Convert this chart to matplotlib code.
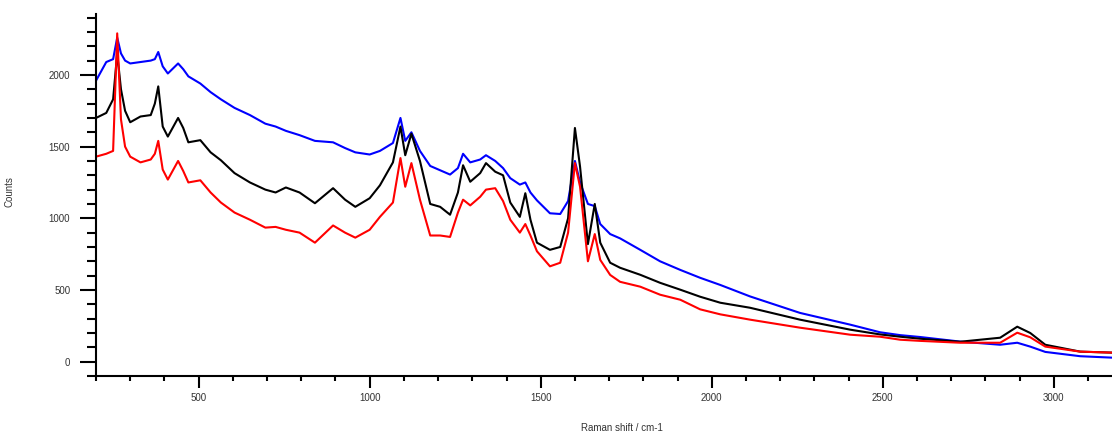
import matplotlib
matplotlib.use("Agg")
import matplotlib.pyplot as plt
from matplotlib.ticker import MultipleLocator

# Raman shift grid (cm-1), shared by the three spectra
shift = [200, 230, 250, 262, 273, 285, 300, 330, 360, 372, 382, 395, 410, 440, 455, 470,
         505, 535, 565, 605, 650, 695, 725, 755, 795, 840, 893, 928, 958, 1000, 1030, 1068,
         1090, 1104, 1122, 1147, 1177, 1206, 1235, 1258, 1273, 1294, 1323, 1340, 1367, 1390,
         1411, 1439, 1455, 1470, 1489, 1527, 1557, 1580, 1600, 1615, 1638, 1658, 1674, 1703,
         1732, 1791, 1849, 1908, 1966, 2025, 2112, 2258, 2405, 2492, 2551, 2609, 2726, 2843,
         2893, 2931, 2975, 3077, 3170]

blue = [1960, 2090, 2110, 2260, 2150, 2100, 2080, 2090, 2100, 2110, 2160, 2060, 2010, 2080, 2040, 1990,
        1940, 1880, 1830, 1770, 1720, 1660, 1640, 1610, 1580, 1540, 1530, 1490, 1460, 1445, 1470, 1525,
        1700, 1540, 1600, 1470, 1365, 1335, 1305, 1350, 1450, 1390, 1410, 1440, 1400, 1350,
        1280, 1235, 1250, 1180, 1125, 1035, 1030, 1120, 1400, 1250, 1100, 1085, 960, 890,
        860, 780, 700, 640, 585, 535, 455, 340, 258, 205, 185, 172, 140, 118,
        132, 105, 68, 38, 28]

black = [1700, 1735, 1830, 2150, 1900, 1750, 1670, 1710, 1720, 1800, 1920, 1640, 1570, 1700, 1630, 1530,
         1545, 1460, 1405, 1315, 1250, 1200, 1180, 1215, 1180, 1105, 1210, 1130, 1080, 1140, 1230, 1390,
         1640, 1440, 1590, 1400, 1100, 1080, 1025, 1180, 1370, 1255, 1315, 1385, 1325, 1300,
         1110, 1010, 1175, 990, 830, 780, 800, 1000, 1630, 1360, 820, 1100, 830, 690,
         655, 606, 550, 502, 453, 411, 376, 293, 223, 190, 174, 160, 139, 167,
         244, 200, 118, 70, 63]

red = [1430, 1450, 1470, 2290, 1690, 1500, 1430, 1390, 1410, 1450, 1540, 1340, 1270, 1400, 1330, 1250,
       1265, 1180, 1110, 1040, 990, 935, 940, 920, 900, 830, 950, 900, 865, 920, 1010, 1110,
       1420, 1220, 1385, 1130, 880, 880, 870, 1040, 1130, 1090, 1150, 1200, 1210, 1120,
       990, 900, 960, 880, 770, 665, 690, 900, 1385, 1220, 700, 890, 710, 605,
       557, 523, 467, 432, 365, 330, 293, 237, 188, 174, 153, 145, 132, 132,
       202, 170, 105, 70, 63]

plt.rcParams["font.family"] = ["Liberation Sans", "DejaVu Sans"]

fig = plt.figure(figsize=(11.12, 4.34), dpi=100)
ax = fig.add_axes([96 / 1112, 58 / 434, 1 - 96 / 1112, 362 / 434])

ax.plot(shift, blue, color="#0000FF", linewidth=1.5)
ax.plot(shift, black, color="#000000", linewidth=1.5)
ax.plot(shift, red, color="#FF0000", linewidth=1.5)

ax.set_xlim(200, 3170)
ax.set_ylim(-100, 2425)

ax.xaxis.set_major_locator(MultipleLocator(500))
ax.xaxis.set_minor_locator(MultipleLocator(100))
ax.yaxis.set_major_locator(MultipleLocator(500))
ax.yaxis.set_minor_locator(MultipleLocator(100))

for side in ["top", "right"]:
    ax.spines[side].set_visible(False)
for side in ["left", "bottom"]:
    ax.spines[side].set_linewidth(1.5)

ax.tick_params(axis="y", which="major", direction="out", length=11.5, width=1.5, pad=7,
               labelsize=7, labelcolor="#333333")
ax.tick_params(axis="y", which="minor", direction="out", length=6.5, width=1.5)
ax.tick_params(axis="x", which="major", direction="out", length=8.5, width=1.5, pad=4,
               labelsize=7, labelcolor="#333333")
ax.tick_params(axis="x", which="minor", direction="out", length=3.5, width=1.5)

ax.set_ylabel("Counts", fontsize=7, color="#333333")
ax.yaxis.set_label_coords(-0.08, 0.51)
ax.set_xlabel("Raman shift / cm-1", fontsize=7, color="#333333")
ax.xaxis.set_label_coords(0.518, -0.13)

fig.savefig("out.png", dpi=100)
